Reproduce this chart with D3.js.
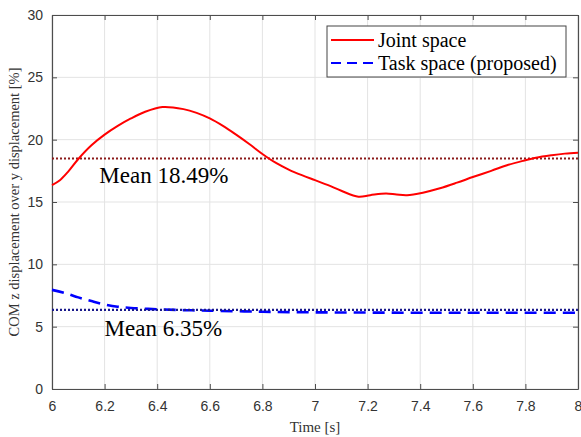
<!DOCTYPE html>
<html>
<head>
<meta charset="utf-8">
<script src="https://cdn.jsdelivr.net/npm/d3@7"></script>
<style>
body{margin:0;background:#fff;}
svg{display:block;}
</style>
</head>
<body>
<script>
// joint space curve
var jointTime = [6.0, 6.03, 6.06, 6.1, 6.15, 6.2, 6.25, 6.3, 6.35, 6.42, 6.5, 6.55, 6.6, 6.65, 6.7, 6.75, 6.8, 6.85, 6.9, 6.95, 7.0, 7.05, 7.1, 7.165, 7.21, 7.27, 7.31, 7.35, 7.41, 7.475, 7.54, 7.6, 7.67, 7.73, 7.79, 7.84, 7.9, 7.95, 8.0];
var jointValue = [16.36, 16.75, 17.4, 18.45, 19.55, 20.4, 21.1, 21.7, 22.2, 22.62, 22.45, 22.15, 21.7, 21.1, 20.4, 19.65, 18.85, 18.15, 17.6, 17.15, 16.75, 16.35, 15.9, 15.43, 15.55, 15.68, 15.6, 15.55, 15.75, 16.1, 16.55, 17.0, 17.5, 17.95, 18.3, 18.55, 18.75, 18.88, 18.96];
// task space curve
var taskTime = [6.0, 6.05, 6.1, 6.15, 6.2, 6.25, 6.3, 6.4, 6.5, 6.6, 6.8, 7.0, 7.2, 7.4, 7.6, 7.8, 8.0];
var taskValue = [7.95, 7.7, 7.35, 7.05, 6.78, 6.6, 6.5, 6.4, 6.33, 6.28, 6.2, 6.15, 6.13, 6.12, 6.12, 6.12, 6.12];

var jointMean = 18.49;
var taskMean = 6.35;

var xTicks = [6, 6.2, 6.4, 6.6, 6.8, 7, 7.2, 7.4, 7.6, 7.8, 8];
var yTicks = [0, 5, 10, 15, 20, 25, 30];
var legendLabels = ['Joint space', 'Task space (proposed)'];

var width = 581;
var height = 437;
var mLeft = 52, mRight = 578, mTop = 15, mBottom = 389;

var svg = d3.select('body')
	.append('svg')
	.attr('width', width)
	.attr('height', height);

var x = d3.scaleLinear().domain([6, 8]).range([mLeft, mRight]);
var y = d3.scaleLinear().domain([0, 30]).range([mBottom, mTop]);

var axisColor = '#4d4d4d';
var tickFont = '"Liberation Sans", Arial, sans-serif';
var serif = '"Liberation Serif", "Times New Roman", serif';

// grid
svg.append('g')
	.selectAll('line')
	.data(xTicks)
	.enter()
	.append('line')
	.attr('x1', d => x(d)).attr('x2', d => x(d))
	.attr('y1', mTop).attr('y2', mBottom)
	.attr('stroke', '#e3e3e3').attr('stroke-width', 1);
svg.append('g')
	.selectAll('line')
	.data(yTicks)
	.enter()
	.append('line')
	.attr('x1', mLeft).attr('x2', mRight)
	.attr('y1', d => y(d)).attr('y2', d => y(d))
	.attr('stroke', '#e3e3e3').attr('stroke-width', 1);

// axes (ticks inward, box on all sides)
function styleAxis(g){
	g.selectAll('path').attr('stroke', axisColor).attr('stroke-width', 1.2);
	g.selectAll('line').attr('stroke', axisColor);
	g.selectAll('text').attr('fill', '#333').style('font-family', tickFont).style('font-size', '14px');
}
svg.append('g')
	.attr('transform', 'translate(0,' + mBottom + ')')
	.call(d3.axisBottom(x).tickValues(xTicks).tickFormat(d3.format('')).tickSizeInner(-5).tickSizeOuter(0).tickPadding(12))
	.call(styleAxis);
svg.append('g')
	.attr('transform', 'translate(' + mLeft + ',0)')
	.call(d3.axisLeft(y).tickValues(yTicks).tickSizeInner(-5).tickSizeOuter(0).tickPadding(9))
	.call(styleAxis);
svg.append('g')
	.attr('transform', 'translate(0,' + mTop + ')')
	.call(d3.axisTop(x).tickValues(xTicks).tickFormat('').tickSizeInner(-5).tickSizeOuter(0))
	.call(styleAxis);
svg.append('g')
	.attr('transform', 'translate(' + mRight + ',0)')
	.call(d3.axisRight(y).tickValues(yTicks).tickFormat('').tickSizeInner(-5).tickSizeOuter(0))
	.call(styleAxis);

// mean line, joint space
svg.append('line')
	.attr('x1', x(6)).attr('x2', x(8))
	.attr('y1', y(jointMean)).attr('y2', y(jointMean))
	.attr('stroke', '#8b1a1a').attr('stroke-width', 2.2)
	.attr('stroke-dasharray', '2,2');

// curves
var line = d3.line()
	.x(d => x(d[0]))
	.y(d => y(d[1]))
	.curve(d3.curveCatmullRom.alpha(0.5));

svg.append('path')
	.datum(d3.zip(jointTime, jointValue))
	.attr('d', line)
	.attr('fill', 'none')
	.attr('stroke', '#ff0000')
	.attr('stroke-width', 2);

svg.append('path')
	.datum(d3.zip(taskTime, taskValue))
	.attr('d', line)
	.attr('fill', 'none')
	.attr('stroke', '#0000ff')
	.attr('stroke-width', 2.6)
	.attr('stroke-dasharray', '12,7');

svg.append('line')
	.attr('x1', x(6)).attr('x2', x(8))
	.attr('y1', y(taskMean)).attr('y2', y(taskMean))
	.attr('stroke', '#1a1a8b').attr('stroke-width', 2.2)
	.attr('stroke-dasharray', '2,2');

// mean annotations
svg.append('text')
	.attr('x', x(6.18))
	.attr('y', y(jointMean) + 25)
	.style('font-family', serif)
	.style('font-size', '23px')
	.attr('fill', '#000')
	.text('Mean ' + jointMean + '%');
svg.append('text')
	.attr('x', x(6.2))
	.attr('y', y(taskMean) + 26)
	.style('font-family', serif)
	.style('font-size', '23px')
	.attr('fill', '#000')
	.text('Mean ' + taskMean + '%');

// axis labels
svg.append('text')
	.attr('x', (mLeft + mRight) / 2)
	.attr('y', 432)
	.attr('text-anchor', 'middle')
	.style('font-family', serif)
	.style('font-size', '15px')
	.attr('fill', '#333')
	.text('Time [s]');
svg.append('text')
	.attr('transform', 'translate(19,' + (mTop + mBottom) / 2 + ') rotate(-90)')
	.attr('text-anchor', 'middle')
	.style('font-family', serif)
	.style('font-size', '14.5px')
	.attr('fill', '#333')
	.text('COM z displacement over y displacement [%]');

// legend
var legend = svg.append('g').attr('transform', 'translate(327,26)');
legend.append('rect')
	.attr('width', 239).attr('height', 51)
	.attr('fill', '#fff')
	.attr('stroke', '#444').attr('stroke-width', 1);
var legendColors = ['#ff0000', '#0000ff'];
var legendDash = [null, '10,6'];
legend.selectAll('line.key')
	.data(legendLabels)
	.enter()
	.append('line')
	.attr('class', 'key')
	.attr('x1', 4).attr('x2', 47)
	.attr('y1', (d, i) => 14 + i * 23).attr('y2', (d, i) => 14 + i * 23)
	.attr('stroke', (d, i) => legendColors[i])
	.attr('stroke-width', 2)
	.attr('stroke-dasharray', (d, i) => legendDash[i]);
legend.selectAll('text')
	.data(legendLabels)
	.enter()
	.append('text')
	.attr('x', 51)
	.attr('y', (d, i) => 21 + i * 23)
	.style('font-family', serif)
	.style('font-size', '20px')
	.attr('fill', '#000')
	.text(d => d);
</script>
</body>
</html>
